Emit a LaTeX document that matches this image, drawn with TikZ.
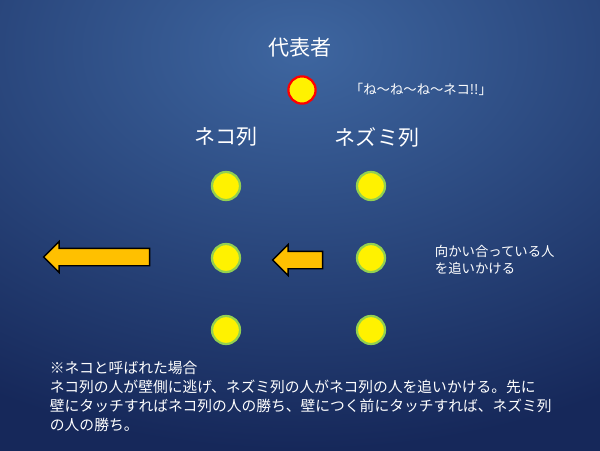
\documentclass[tikz,border=0pt]{standalone}
\usepackage{fontspec}
\setmainfont{Noto Sans CJK JP}
\usetikzlibrary{shapes.arrows}
\definecolor{bgtop}{RGB}{62,102,160}
\definecolor{bgbot}{RGB}{22,40,90}
\definecolor{dotring}{RGB}{146,208,80}
\definecolor{arrowfill}{RGB}{255,192,0}
\tikzset{
  member/.style={circle, draw=dotring, line width=1.6pt, fill=yellow, minimum size=0.7cm, inner sep=0pt},
  leader/.style={circle, draw=red, line width=1.6pt, fill=yellow, minimum size=0.68cm, inner sep=0pt},
  heading/.style={text=white, font=\fontsize{15}{15}\selectfont},
  note/.style={text=white, font=\fontsize{9.5}{12}\selectfont, align=left},
  runarrow/.style={single arrow, draw=black, line width=1pt, fill=arrowfill, shape border rotate=180,
    single arrow head extend=0.17cm, inner xsep=0pt, inner ysep=0.2cm, minimum height=#1}
}
\begin{document}
\begin{tikzpicture}[x=0.025cm,y=-0.025cm]
    % Background
    \useasboundingbox (0,0) rectangle (600,450);
    \clip (0,0) rectangle (600,450);
    \shade[outer color=bgbot, inner color=bgtop] (-300,-350) rectangle (900,450);

    % Leader
    \node (title) at (300,48) [heading] {代表者};
    \node (leader) at (302,90) [leader] {};
    \node (call) at (345,89) [note, anchor=west] {「ね〜ね〜ね〜ネコ!!」};

    % Rows
    \node (cat) at (226,137) [heading] {ネコ列};
    \node (mouse) at (377,137) [heading] {ネズミ列};
    \foreach \i/\y in {1/186, 2/258, 3/330} {
        \node (cat\i) at (226,\y) [member] {};
        \node (mouse\i) at (371,\y) [member] {};
    }

    % Arrows
    \node (bigarrow) at (101,257) [runarrow=2.65cm] {};
    \node (smallarrow) at (302,260) [runarrow=1.25cm] {};
    \node (chase) at (430,260) [note, anchor=west] {向かい合っている人\\を追いかける};

    % Rule
    \node (rule) at (45,356) [note, anchor=north west, font=\fontsize{10.5}{13.5}\selectfont]
        {※ネコと呼ばれた場合\\ネコ列の人が壁側に逃げ、ネズミ列の人がネコ列の人を追いかける。先に\\壁にタッチすればネコ列の人の勝ち、壁につく前にタッチすれば、ネズミ列\\の人の勝ち。};
\end{tikzpicture}
\end{document}
